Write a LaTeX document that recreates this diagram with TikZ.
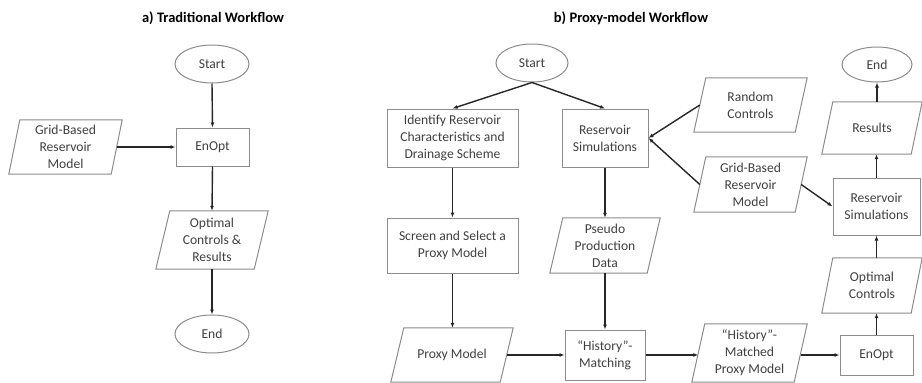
\documentclass[tikz,border=0pt]{standalone}
\usepackage{fontspec}
\setmainfont{Carlito}
\usetikzlibrary{arrows.meta,shapes.geometric}
\definecolor{boxc}{HTML}{8C8C8C}
\definecolor{txtc}{HTML}{404040}
\definecolor{linec}{HTML}{262626}
\tikzset{
  lbl/.style={font=\fontsize{13.6}{17}\selectfont, text=txtc, align=center, inner sep=0pt},
  rbox/.style n args={2}{lbl, draw=boxc, line width=1pt, rectangle, minimum width=#1pt, minimum height=#2pt},
  ebox/.style n args={2}{lbl, draw=boxc, line width=1pt, ellipse, minimum width=#1pt, minimum height=#2pt},
  pbody/.style n args={2}{lbl, rectangle, minimum width=#1pt, minimum height=#2pt},
  pframe/.style={draw=boxc, line width=1pt},
  conn/.style={draw=linec, line width=1.4pt, -{Latex[length=5pt,width=4pt]}},
  ttl/.style={font=\fontsize{14.5}{17}\selectfont\bfseries, text=black, inner sep=0pt}
}
\newcommand\parabox[7]{%
  \node[pbody={#4}{#5}] (#1) at (#2,#3) {#7};
  \draw[pframe] ([xshift=0.5*#6pt]#1.north west) -- ([xshift=0.5*#6pt]#1.north east)
    -- ([xshift=-0.5*#6pt]#1.south east) -- ([xshift=-0.5*#6pt]#1.south west) -- cycle;
}
\begin{document}
\begin{tikzpicture}[x=1pt,y=-1pt]
\useasboundingbox (0,0) rectangle (922,383);
% titles
\node[ttl] (ta) at (213,18) {a) Traditional Workflow};
\node[ttl] (tb) at (631,18) {b) Proxy-model Workflow};
% panel a
\node[ebox={74}{38}] (Sa) at (212,64) {Start};
\node[rbox={73}{38}] (Ea) at (212.5,147) {EnOpt};
\parabox{Ga}{65.5}{147}{102}{54}{11}{Grid-Based\\Reservoir\\Model}
\parabox{Oa}{212}{240}{98}{58}{14}{Optimal\\Controls \&\\Results}
\node[ebox={74}{38}] (Ena) at (212,334) {End};
\draw[conn] (Sa.south) -- (Ea.north);
\draw[conn] (Ga.east) -- (Ea.west);
\draw[conn] (Ea.south) -- (Oa.north);
\draw[conn] (Oa.south) -- (Ena.north);
% panel b
\node[ebox={72}{38}] (Sb) at (532,63) {Start};
\node[rbox={131}{58}] (Id) at (452.5,138) {Identify Reservoir\\Characteristics and\\Drainage Scheme};
\node[rbox={86}{58}] (Rl) at (605,138) {Reservoir\\Simulations};
\node[rbox={131}{55}] (Sc) at (452.5,245.5) {Screen and Select a\\Proxy Model};
\parabox{Ps}{605}{245.5}{97}{55}{13}{Pseudo\\Production\\Data}
\parabox{Px}{452}{355}{109}{54}{13}{Proxy Model}
\node[rbox={80}{50}] (Hm) at (605,355) {“History”-\\Matching};
\parabox{Hmp}{749.5}{353}{102}{58}{13}{“History”-\\Matched\\Proxy Model}
\node[rbox={73}{40}] (Eb) at (876.5,355) {EnOpt};
\parabox{Ob}{872}{285.5}{89}{55}{11}{Optimal\\Controls}
\node[rbox={87}{57}] (Rr) at (876.5,206.5) {Reservoir\\Simulations};
\parabox{Rs}{872}{128}{89}{52}{11}{Results}
\node[ebox={70}{35}] (Enb) at (877,64.5) {End};
\parabox{Rc}{750.5}{105}{101}{54}{12}{Random\\Controls}
\parabox{Gb}{750.5}{184.5}{101}{55}{12}{Grid-Based\\Reservoir\\Model}
\draw[conn] (Sb.south) -- (Id.north);
\draw[conn] (Sb.south) -- (Rl.north);
\draw[conn] (Id.south) -- (Sc.north);
\draw[conn] (Sc.south) -- (Sc.south |- Px.north);
\draw[conn] (Rl.south) -- (Ps.north);
\draw[conn] (Ps.south) -- (Hm.north);
\draw[conn] (Px.east) -- (Hm.west);
\draw[conn] (Hm.east) -- (Hm.east -| Hmp.west);
\draw[conn] (Eb.west -| Hmp.east) -- (Eb.west);
\draw[conn] (Eb.north) -- (Eb.north |- Ob.south);
\draw[conn] (Ob.north -| Rr.south) -- (Rr.south);
\draw[conn] (Rr.north) -- (Rr.north |- Rs.south);
\draw[conn] (Rs.north -| Enb.south) -- (Enb.south);
\draw[conn] (Rc.west) -- (Rl.east);
\draw[conn] (Gb.west) -- (Rl.east);
\draw[conn] (Gb.east) -- (Rr.west);
\end{tikzpicture}
\end{document}
